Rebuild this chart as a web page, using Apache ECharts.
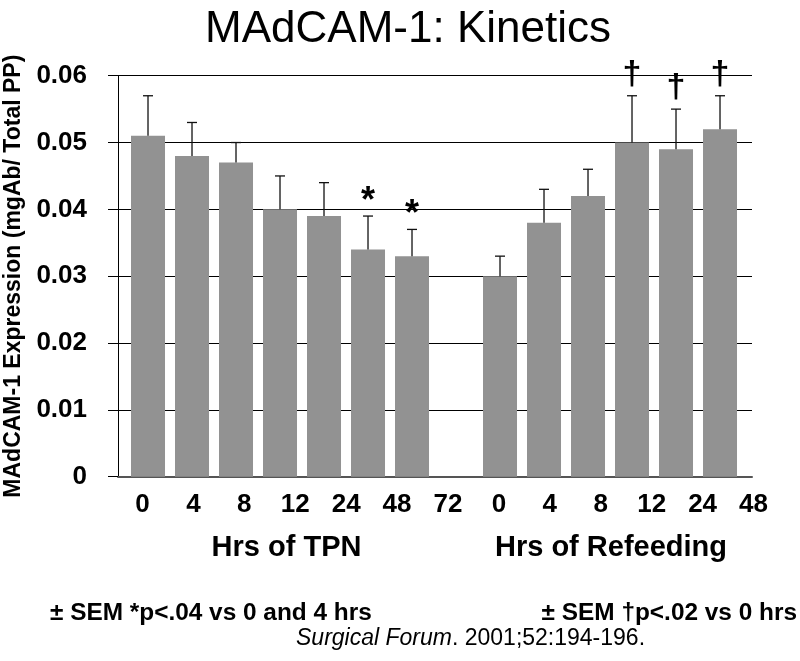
<!DOCTYPE html>
<html><head><meta charset="utf-8">
<script src="https://cdn.jsdelivr.net/npm/echarts@6/dist/echarts.min.js"></script>
<style>html,body{margin:0;padding:0;background:#fff}#chart{width:800px;height:661px}</style>
</head><body><div id="chart"></div>
<script>
// ---- data ----
const categories = ['TPN 0','TPN 4','TPN 8','TPN 12','TPN 24','TPN 48','TPN 72','','Refeed 0','Refeed 4','Refeed 8','Refeed 12','Refeed 24','Refeed 48'];
const means = [0.051,0.048,0.047,0.040,0.039,0.034,0.033,null,0.030,0.038,0.042,0.050,0.049,0.052];
const sems  = [0.006,0.005,0.003,0.005,0.005,0.005,0.004,null,0.003,0.005,0.004,0.007,0.006,0.005];
const markers = ['','','','','','*','*','','','','','\u2020','\u2020','\u2020'];
const tickLabels = ['0','4','8','12','24','48','72','0','4','8','12','24','48'];
const groupNames = ['Hrs of TPN','Hrs of Refeeding'];
const yAxisTitle = 'MAdCAM-1 Expression (mgAb/ Total PP)';
const titleText = 'MAdCAM-1: Kinetics';
const footLeft = '\u00b1 SEM *p<.04 vs 0 and 4 hrs';
const footRight = '\u00b1 SEM \u2020p<.02 vs 0 hrs';
const citeItalic = 'Surgical Forum';
const citeRest = '. 2001;52:194-196.';

const FONT = '"Liberation Sans", Arial, Helvetica, sans-serif';

const barData = [];
const errData = [];
means.forEach((m, i) => {
  if (m !== null) {
    barData.push([i, m]);
    errData.push([i, m, sems[i]]);
  }
});

const chart = echarts.init(document.getElementById('chart'), null, {renderer: 'canvas'});
const option = {
  animation: false,
  backgroundColor: '#fff',
  grid: [
    {left: 118, right: 48, top: 75.7, bottom: 184.3, containLabel: false, outerBoundsMode: 'none'},
    {left: 117, right: 21, top: 75.7, bottom: 184.3, containLabel: false, outerBoundsMode: 'none'}
  ],
  xAxis: [
    {
      type: 'value', gridIndex: 0, min: -0.682, max: 13.727,
      axisLine: {show: true, onZero: false, lineStyle: {color: '#555', width: 2}},
      axisTick: {show: false}, axisLabel: {show: false}, splitLine: {show: false}
    },
    {
      type: 'category', gridIndex: 1, data: tickLabels, boundaryGap: true,
      axisLine: {show: false}, axisTick: {show: false}, splitLine: {show: false},
      axisLabel: {interval: 0, margin: 15, color: '#000', fontSize: 26, fontWeight: 'bold', fontFamily: FONT}
    }
  ],
  yAxis: [
    {
      type: 'value', gridIndex: 0, min: 0, max: 0.06, interval: 0.01,
      axisLine: {show: true, onZero: false, lineStyle: {color: '#000', width: 1}},
      axisTick: {show: true, inside: false, length: 10, lineStyle: {color: '#000', width: 1}},
      splitLine: {show: true, lineStyle: {color: '#000', width: 1}},
      axisLabel: {margin: 31, color: '#000', fontSize: 26, fontWeight: 'bold', fontFamily: FONT,
        formatter: v => (v === 0 ? '0' : v.toFixed(2))},
      name: yAxisTitle, nameLocation: 'middle', nameGap: 91, nameRotate: 90,
      nameTextStyle: {color: '#000', fontSize: 23, fontWeight: 'bold', fontFamily: FONT}
    },
    {type: 'value', gridIndex: 1, show: false}
  ],
  series: [
    {
      type: 'bar', xAxisIndex: 0, yAxisIndex: 0, data: barData, barWidth: 34,
      itemStyle: {color: '#929292'}, z: 2
    },
    {
      type: 'custom', xAxisIndex: 0, yAxisIndex: 0, data: errData, z: 5, clip: false,
      renderItem: function (params, api) {
        const i = api.value(0), m = api.value(1), s = api.value(2);
        const b = api.coord([i, m]);
        const t = api.coord([i, m + s]);
        const st = {stroke: '#111', lineWidth: 1.3};
        const children = [
          {type: 'line', shape: {x1: b[0], y1: b[1], x2: t[0], y2: t[1]}, style: st},
          {type: 'line', shape: {x1: t[0] - 5, y1: t[1], x2: t[0] + 5, y2: t[1]}, style: st}
        ];
        const mk = markers[i];
        if (mk) {
          const isStar = mk === '*';
          children.push({
            type: 'text', x: t[0], y: t[1] - (isStar ? 14 : 21),
            style: {text: mk, fill: '#000', font: 'bold ' + (isStar ? 36 : 34) + 'px ' + FONT,
              align: 'center', verticalAlign: 'middle', textAlign: 'center', textVerticalAlign: 'middle'}
          });
        }
        return {type: 'group', children: children};
      }
    }
  ],
  graphic: [
    {type: 'text', x: 408, y: 30, style: {text: titleText, fill: '#000', font: '44px ' + FONT,
      align: 'center', verticalAlign: 'middle', textAlign: 'center', textVerticalAlign: 'middle'}},
    {type: 'text', x: 286.5, y: 548, style: {text: groupNames[0], fill: '#000', font: 'bold 29px ' + FONT,
      align: 'center', verticalAlign: 'middle', textAlign: 'center', textVerticalAlign: 'middle'}},
    {type: 'text', x: 611, y: 548, style: {text: groupNames[1], fill: '#000', font: 'bold 29px ' + FONT,
      align: 'center', verticalAlign: 'middle', textAlign: 'center', textVerticalAlign: 'middle'}},
    {type: 'text', x: 50, y: 613, style: {text: footLeft, fill: '#000', font: 'bold 24.4px ' + FONT,
      align: 'left', verticalAlign: 'middle', textAlign: 'left', textVerticalAlign: 'middle'}},
    {type: 'text', x: 797, y: 613, style: {text: footRight, fill: '#000', font: 'bold 24.4px ' + FONT,
      align: 'right', verticalAlign: 'middle', textAlign: 'right', textVerticalAlign: 'middle'}},
    {type: 'text', x: 296, y: 639, style: {
      text: '{i|' + citeItalic + '}' + citeRest, fill: '#000', fontSize: 23, fontFamily: FONT,
      align: 'left', verticalAlign: 'middle', textAlign: 'left', textVerticalAlign: 'middle',
      rich: {i: {fontStyle: 'italic', fontSize: 23, fontFamily: FONT, fill: '#000'}}}}
  ]
};
chart.setOption(option);
</script>
</body></html>
